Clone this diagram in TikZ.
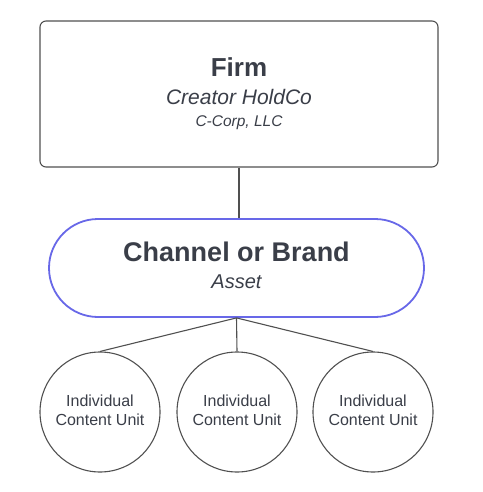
\documentclass[tikz,border=0pt]{standalone}
\usepackage{fontspec}
\setmainfont{Liberation Sans}
\definecolor{txt}{RGB}{58,62,72}
\definecolor{edge}{RGB}{80,80,80}
\definecolor{pillblue}{RGB}{104,104,232}
\begin{document}
\begin{tikzpicture}[x=1pt,y=-1pt,
  firmbox/.style={draw=edge,line width=1.1pt,rounded corners=6pt,minimum width=398pt,minimum height=146pt,inner sep=0pt},
  pillbox/.style={draw=pillblue,line width=1.8pt,rounded corners=49pt,minimum width=375pt,minimum height=98pt,inner sep=0pt},
  unit/.style={draw=edge,line width=1.1pt,circle,minimum size=120pt,inner sep=0pt},
  conn/.style={draw=edge,line width=1.1pt},
  lbl/.style={anchor=base,text=txt,inner sep=0pt}]
\useasboundingbox (0,0) rectangle (482,492);
\node[firmbox] (firm) at (239,94) {};
\node[pillbox] (pill) at (236.5,268) {};
\node[unit] (u1) at (100,412) {};
\node[unit] (u2) at (237,412) {};
\node[unit] (u3) at (373,412) {};
\draw[conn] (firm.south) -- (pill.north -| firm.south);
\draw[conn] (pill.south) -- (u1.north);
\draw[conn] (pill.south) -- (u2.north);
\draw[conn] (pill.south) -- (u3.north);
\node[lbl,font=\fontsize{26}{30}\selectfont\bfseries] (t1) at (239,76.5) {Firm};
\node[lbl,font=\fontsize{21}{25}\selectfont\itshape] (t2) at (239,104.3) {Creator HoldCo};
\node[lbl,font=\fontsize{15.5}{18}\selectfont\itshape] (t3) at (239,126.7) {C-Corp, LLC};
\node[lbl,font=\fontsize{27}{32}\selectfont\bfseries] (t4) at (236.5,261.7) {Channel or Brand};
\node[lbl,font=\fontsize{20}{24}\selectfont\itshape] (t5) at (236.5,288.3) {Asset};
\foreach \n/\x in {1/100,2/237,3/373}{
  \node[lbl,font=\fontsize{16}{19}\selectfont] (a\n) at (\x,406) {Individual};
  \node[lbl,font=\fontsize{16}{19}\selectfont] (b\n) at (\x,425) {Content Unit};
}
\end{tikzpicture}
\end{document}
